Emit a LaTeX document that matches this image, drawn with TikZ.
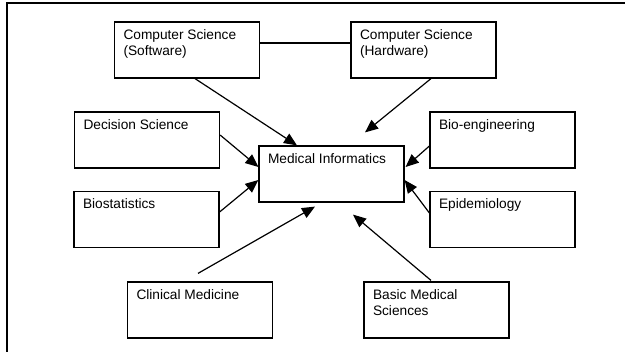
\documentclass[tikz,border=0pt]{standalone}
\usepackage{fontspec}
\setmainfont{Liberation Sans}
\usetikzlibrary{arrows.meta,calc}

\newcommand\boxlabel[1]{\parbox[c][41pt][t]{127pt}{\raggedright #1}}

\begin{document}
\begin{tikzpicture}[x=1pt,y=-1pt,
    field/.style={draw, line width=1.2pt, rectangle, inner xsep=9pt, inner ysep=7.5pt,
      font=\fontsize{13.7}{16}\selectfont},
    feed/.style={line width=1.2pt, -{Triangle[length=13pt,width=11pt]}},
    link/.style={line width=1.2pt}]
  % page area
  \fill[white] (0,0) rectangle (625,352);
  \useasboundingbox (0,0) rectangle (625,352);
  % outer frame (top and left edges)
  \draw[line width=2pt] (7,353) -- (7,3) -- (626,3);

  % boxes
  \node[field] (cssw)    at (187,50)    {\boxlabel{Computer Science\\(Software)}};
  \node[field] (cshw)    at (423.5,50)  {\boxlabel{Computer Science\\(Hardware)}};
  \node[field] (dec)     at (147,140)   {\boxlabel{Decision Science}};
  \node[field] (mi)      at (331.5,174) {\boxlabel{Medical Informatics}};
  \node[field] (bio)     at (502.5,140) {\boxlabel{Bio-engineering}};
  \node[field] (biostat) at (146.5,219.5) {\boxlabel{Biostatistics}};
  \node[field] (epi)     at (502.5,219.5) {\boxlabel{Epidemiology}};
  \node[field] (clin)    at (200,310)   {\boxlabel{Clinical Medicine}};
  \node[field] (basic)   at (436.5,310) {\boxlabel{Basic Medical\\Sciences}};

  % connectors
  \draw[link] ($(cssw.east)+(0,-7)$) -- ($(cshw.west)+(0,-7)$);
  \draw[feed] ($(cssw.south)+(8,0)$)     -- ($(mi.north)+(-34.5,0)$);
  \draw[feed] ($(cshw.south)+(7.5,0)$)   -- ($(mi.north)+(33.5,-13)$);
  \draw[feed] ($(dec.east)+(0,-5)$)      -- ($(mi.west)+(0,-7)$);
  \draw[feed] ($(bio.west)+(0,6)$)       -- ($(mi.east)+(1,-7)$);
  \draw[feed] ($(biostat.east)+(0,-7.5)$) -- ($(mi.west)+(0,6)$);
  \draw[feed] ($(epi.west)+(0,-6.5)$)    -- ($(mi.east)+(0,6)$);
  \draw[feed] ($(clin.north)+(-2,-8)$)   -- ($(mi.south)+(-16.5,4)$);
  \draw[feed] ($(basic.north)+(-5.5,-1)$) -- ($(mi.south)+(21.5,12)$);
\end{tikzpicture}
\end{document}
